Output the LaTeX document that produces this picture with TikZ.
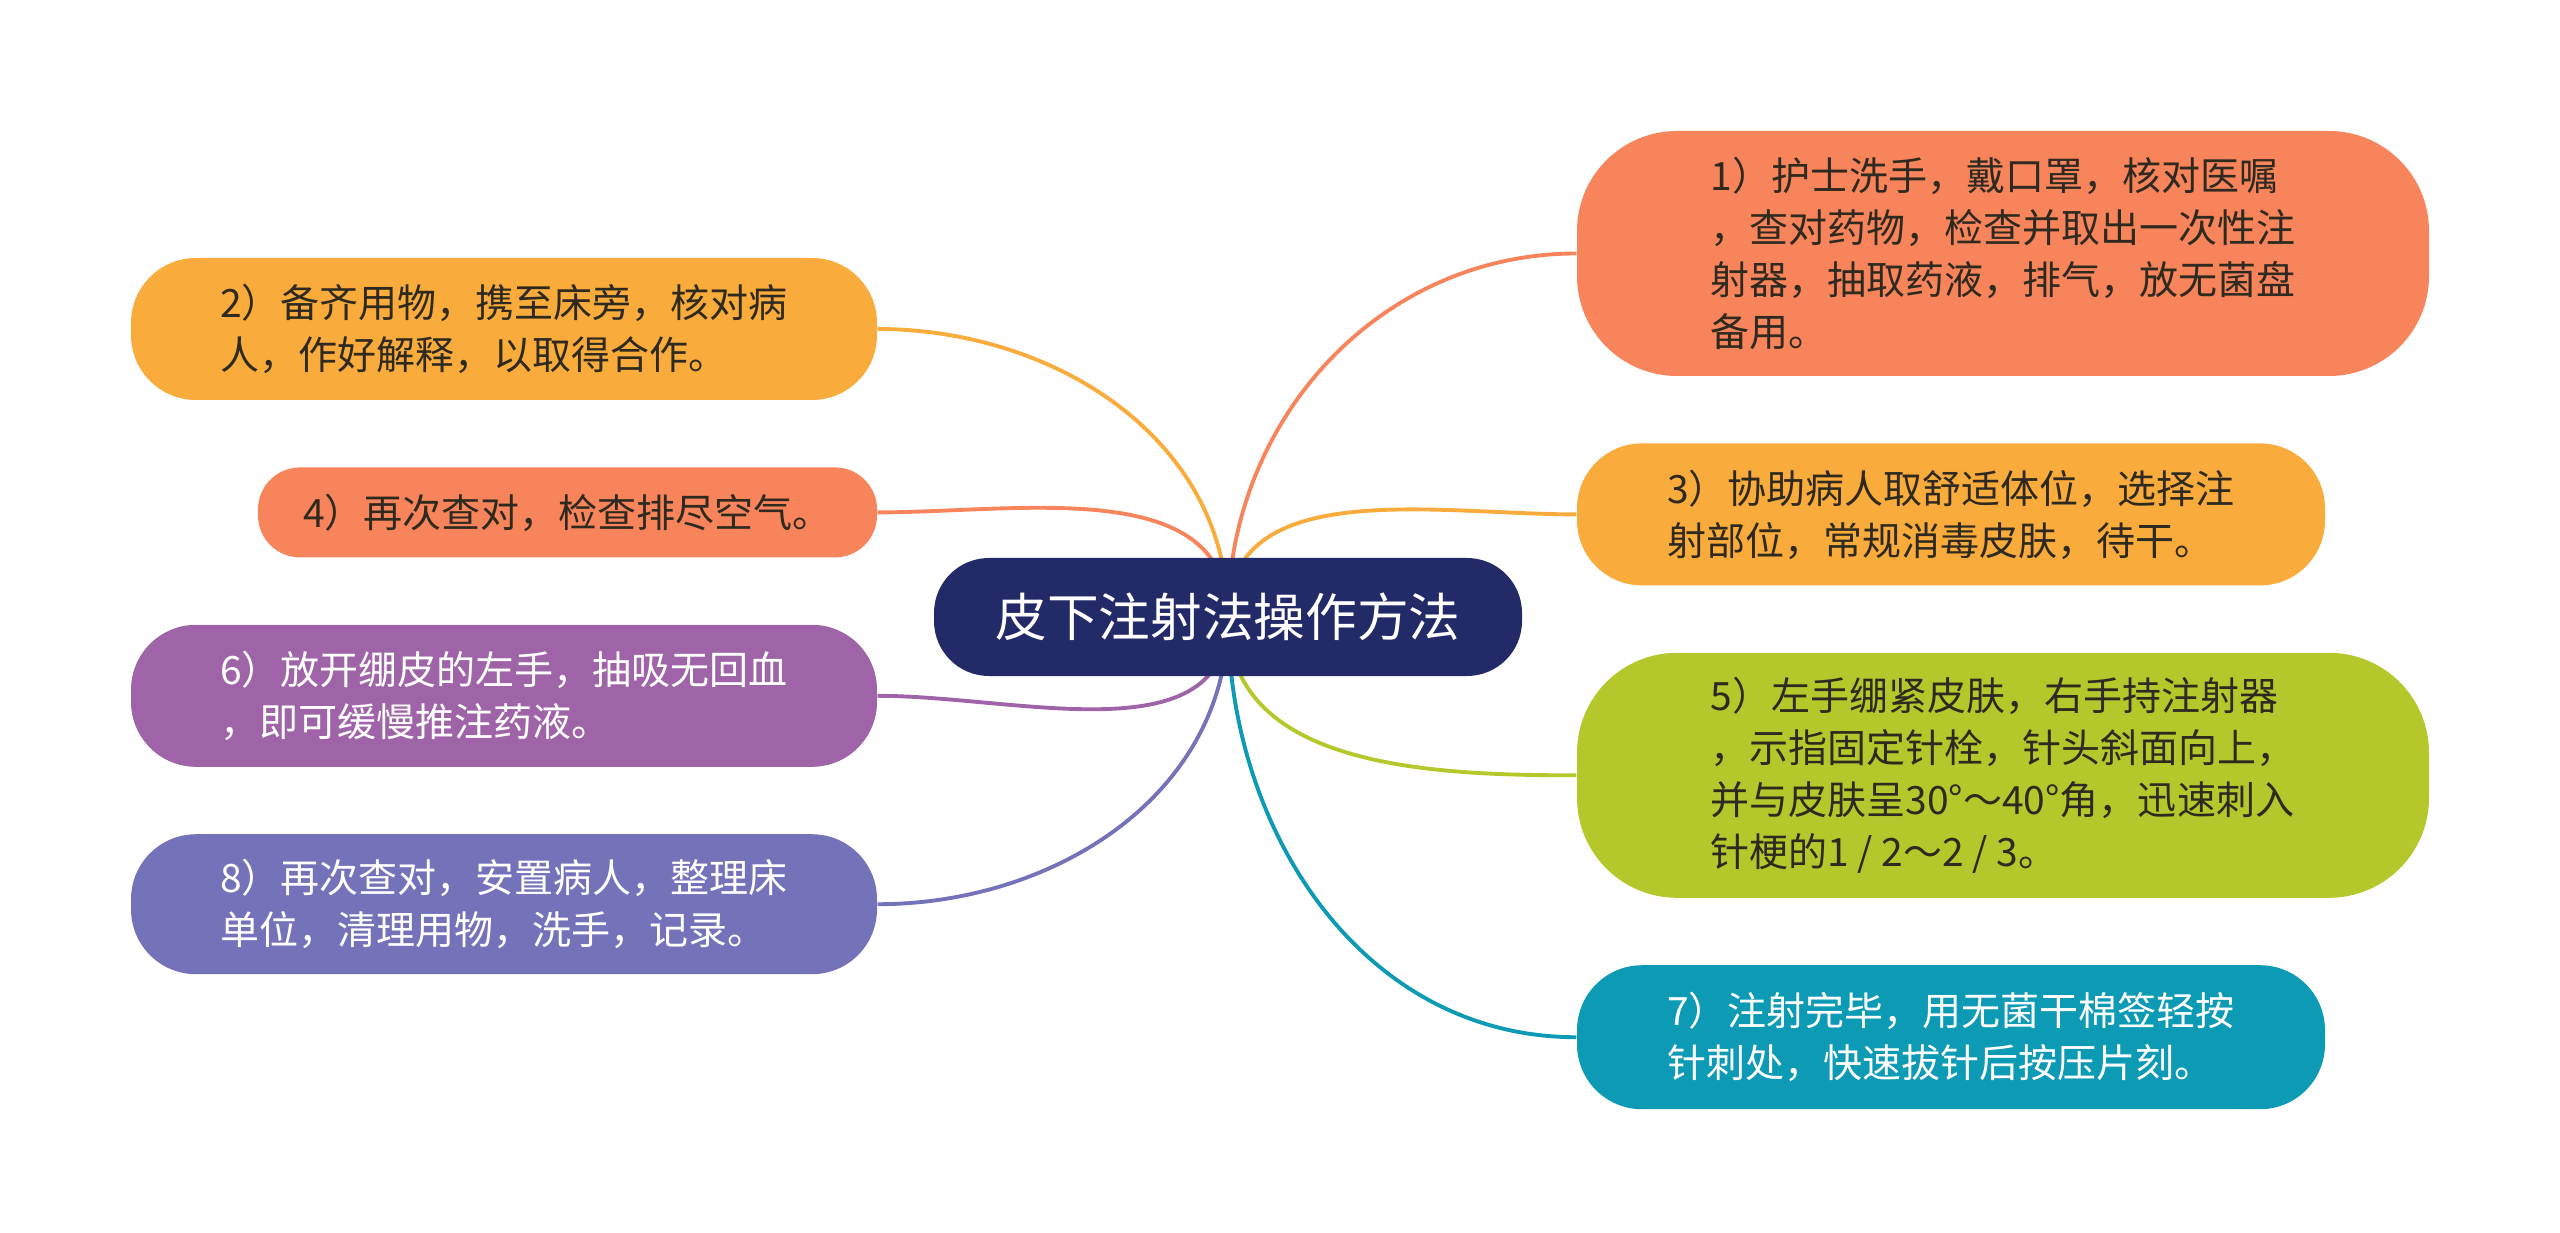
\documentclass[tikz,border=0pt]{standalone}
\usepackage{fontspec}
\usepackage{xcolor}
\usepackage{tikz}
\usetikzlibrary{positioning,backgrounds}
\newfontfamily\cjk{Noto Sans CJK SC}
\definecolor{rootblue}{HTML}{232A68}
\definecolor{salmon}{HTML}{F7845A}
\definecolor{amber}{HTML}{F9AB3B}
\definecolor{lime}{HTML}{B5C82B}
\definecolor{violet}{HTML}{9F64A8}
\definecolor{teal}{HTML}{0C9AB5}
\definecolor{lavender}{HTML}{7473BA}
\definecolor{textdark}{HTML}{2E2A20}

\begin{document}
\begin{tikzpicture}[
  node distance=0.66cm and 0cm,
  box/.style={rounded corners=#1, align=left, inner sep=0pt, text=textdark,
    font=\cjk\fontsize{11.1}{14.8}\selectfont},
  rootbox/.style={rounded corners=0.55cm, fill=rootblue, text=white, inner sep=0pt,
    minimum width=5.88cm, minimum height=1.18cm, font=\cjk\fontsize{14.7}{18}\selectfont},
  link/.style={line width=1.1pt}
]
  \useasboundingbox (0,0) rectangle (25.6,-12.33);

  \node[rootbox] (root) at (12.28,-6.17) {皮下注射法操作方法};

  \node[box=1.0cm, fill=salmon, minimum width=8.52cm, minimum height=2.45cm] (s1) at (20.03,-2.535)
    {1）护士洗手，戴口罩，核对医嘱\\，查对药物，检查并取出一次性注\\射器，抽取药液，排气，放无菌盘\\备用。};
  \node[box=0.65cm, fill=amber, minimum width=7.48cm, minimum height=1.42cm, below right=of s1.south west] (s3)
    {3）协助病人取舒适体位，选择注\\射部位，常规消毒皮肤，待干。};
  \node[box=1.0cm, fill=lime, minimum width=8.52cm, minimum height=2.45cm, below right=of s3.south west] (s5)
    {5）左手绷紧皮肤，右手持注射器\\，示指固定针栓，针头斜面向上，\\并与皮肤呈30°～40°角，迅速刺入\\针梗的1 / 2～2 / 3。};
  \node[box=0.65cm, fill=teal, text=white, minimum width=7.48cm, minimum height=1.44cm, below right=of s5.south west] (s7)
    {7）注射完毕，用无菌干棉签轻按\\针刺处，快速拔针后按压片刻。};

  \node[box=0.65cm, fill=amber, minimum width=7.46cm, minimum height=1.42cm] (s2) at (5.04,-3.29)
    {2）备齐用物，携至床旁，核对病\\人，作好解释，以取得合作。};
  \node[box=0.42cm, fill=salmon, minimum width=6.19cm, minimum height=0.90cm, below left=of s2.south east] (s4)
    {4）再次查对，检查排尽空气。};
  \node[box=0.65cm, fill=violet, text=white, minimum width=7.46cm, minimum height=1.42cm, below left=of s4.south east] (s6)
    {6）放开绷皮的左手，抽吸无回血\\，即可缓慢推注药液。};
  \node[box=0.65cm, fill=lavender, text=white, minimum width=7.46cm, minimum height=1.40cm, below left=of s6.south east] (s8)
    {8）再次查对，安置病人，整理床\\单位，清理用物，洗手，记录。};

  \begin{scope}[on background layer]
    \draw[link, salmon] (root.center) to[out=90, in=180] (s1.west);
    \draw[link, amber] (root.center) to[out=90, in=180] (s3.west);
    \draw[link, lime] (root.center) to[out=-90, in=180] (s5.west);
    \draw[link, teal] (root.center) to[out=-90, in=180] (s7.west);
    \draw[link, amber] (root.center) to[out=90, in=0] (s2.east);
    \draw[link, salmon] (root.center) to[out=90, in=0] (s4.east);
    \draw[link, violet] (root.center) to[out=-90, in=0] (s6.east);
    \draw[link, lavender] (root.center) to[out=-90, in=0] (s8.east);
  \end{scope}
\end{tikzpicture}
\end{document}
